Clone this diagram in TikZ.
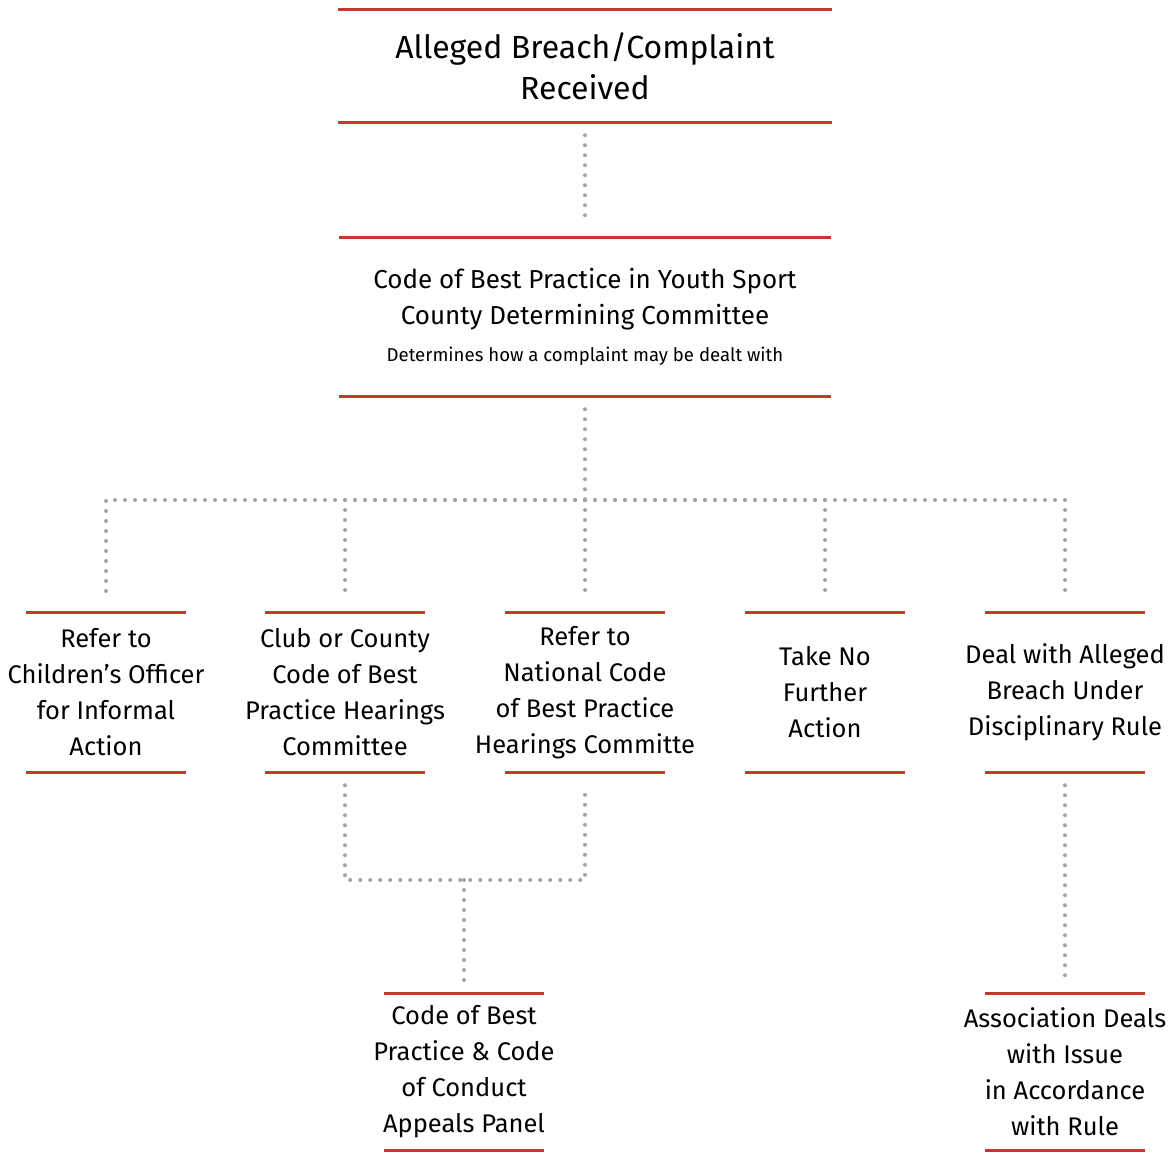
\documentclass[tikz,border=0pt]{standalone}
\usepackage{fontspec}
\setmainfont{Fira Sans}
\usetikzlibrary{calc}
\definecolor{barred}{HTML}{C8372D}
\definecolor{dotgray}{HTML}{A3A3A3}
\tikzset{
  stage/.style={align=center, inner sep=0pt, minimum width=160pt, font=\fontsize{25.5}{36}\selectfont},
  bar/.style={draw=barred, line width=3pt},
  link/.style={draw=dotgray, line width=4pt, line cap=round, dash pattern=on 0pt off 10pt,
    shorten <=13pt, shorten >=13pt}
}
\newcommand{\redbars}[2]{\draw[bar] ([xshift=-#2]#1.north) -- ([xshift=#2]#1.north)
  ([xshift=-#2]#1.south) -- ([xshift=#2]#1.south);}
\begin{document}
\begin{tikzpicture}[x=1pt,y=-1pt]
\useasboundingbox (0,0) rectangle (1175,1153);

\node[stage, minimum height=112pt, font=\fontsize{32}{41}\selectfont] (received) at (585,66)
  {Alleged Breach/Complaint\\Received};
\node[stage, minimum height=158pt, font=\fontsize{26}{36}\selectfont] (determining) at (585,317)
  {Code of Best Practice in Youth Sport\\County Determining Committee\\[1pt]
   {\fontsize{18.6}{22}\selectfont Determines how a complaint may be dealt with}};

\node[stage, minimum height=159pt] (officer) at (106,692.5)
  {Refer to\\Children's Officer\\for Informal\\Action};
\node[stage, minimum height=159pt] (club) at (345,692.5)
  {Club or County\\Code of Best\\Practice Hearings\\Committee};
\node[stage, minimum height=159pt] (national) at (585,692.5)
  {Refer to\\National Code\\of Best Practice\\Hearings Committe};
\node[stage, minimum height=159pt] (noaction) at (825,692.5)
  {Take No\\Further\\Action};
\node[stage, minimum height=159pt] (disciplinary) at (1065,692.5)
  {Deal with Alleged\\Breach Under\\Disciplinary Rule};

\node[stage, minimum height=156pt] (appeals) at (464,1072)
  {Code of Best\\Practice \& Code\\of Conduct\\Appeals Panel};
\node[stage, minimum height=156pt] (association) at (1065,1072)
  {Association Deals\\with Issue\\in Accordance\\with Rule};

\redbars{received}{247pt}
\redbars{determining}{246pt}
\foreach \n in {officer,club,national,noaction,disciplinary,appeals,association}
  {\redbars{\n}{80pt}}

\coordinate (split) at (585,500);
\coordinate (join) at (464,880);

\draw[link] (received) -- (determining);
\draw[link, shorten >=0pt] (determining) -- (split);
\foreach \n in {officer,club,national,noaction,disciplinary}
  \draw[link, shorten <=0pt] (split) -| (\n);
\draw[link] (club) |- (join) -| (national);
\draw[link, shorten <=0pt] (join) -- (appeals);
\draw[link] (disciplinary) -- (association);
\end{tikzpicture}
\end{document}
